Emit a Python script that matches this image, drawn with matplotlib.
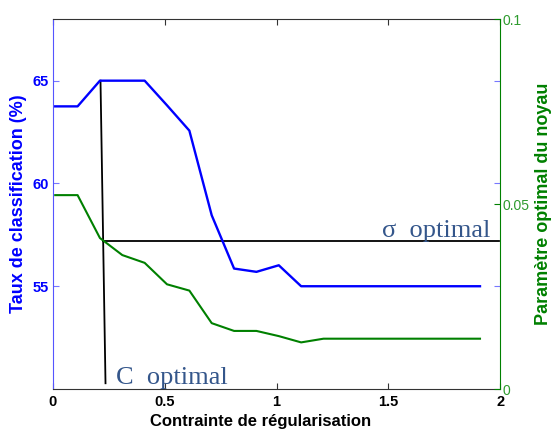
import matplotlib.pyplot as plt

# regularisation constraint (x), classification rate (%) and optimal kernel parameter
c_values = [0.01, 0.11, 0.21, 0.31, 0.41, 0.51, 0.61, 0.71, 0.81, 0.91,
            1.01, 1.11, 1.21, 1.31, 1.41, 1.51, 1.61, 1.71, 1.81, 1.91]
taux = [63.75, 63.75, 65.0, 65.0, 65.0, 63.8, 62.57, 58.45, 55.86, 55.7,
        56.02, 55.0, 55.0, 55.0, 55.0, 55.0, 55.0, 55.0, 55.0, 55.0]
sigma = [0.0524, 0.0524, 0.0408, 0.0362, 0.0341, 0.0283, 0.0266, 0.0178, 0.0157, 0.0157,
         0.0143, 0.0126, 0.0136, 0.0136, 0.0136, 0.0136, 0.0136, 0.0136, 0.0136, 0.0136]

# guide lines marking the optimum (left axis units)
c_opt_x = [0.2125, 0.2349]
c_opt_y = [65.0, 50.28]
sigma_opt_x = [0.2255, 1.995]
sigma_opt_y = [57.18, 57.18]

x_ticks = [0, 0.5, 1, 1.5, 2]
x_ticklabels = ['0', '0.5', '1', '1.5', '2']
left_ticks = [55, 60, 65]
right_ticks = [0, 0.05, 0.1]
right_ticklabels = ['0', '0.05', '0.1']

blue = '#0000FF'
green = '#008000'
note_col = '#34568B'

plt.rcParams['font.family'] = ['Liberation Sans', 'DejaVu Sans']

fig = plt.figure(figsize=(5.52, 4.29), dpi=100)
ax = fig.add_axes([0.096, 0.0932, 0.81, 0.8625])
ax2 = ax.twinx()

ax.plot(c_values, taux, color=blue, lw=1.7, zorder=3)
ax.plot(c_opt_x, c_opt_y, color='black', lw=1.3, zorder=2)
ax.plot(sigma_opt_x, sigma_opt_y, color='black', lw=1.3, zorder=2)
ax2.plot(c_values, sigma, color=green, lw=1.5)

ax.set_xlim(0, 2)
ax.set_ylim(50, 68)
ax2.set_ylim(0, 0.1)

ax.set_xticks(x_ticks)
ax.set_xticklabels(x_ticklabels, fontweight='bold', fontsize=10.5)
ax.set_yticks(left_ticks)
ax.set_yticklabels([str(t) for t in left_ticks], fontweight='bold', fontsize=10.5, color=blue)
ax2.set_yticks(right_ticks)
ax2.set_yticklabels(right_ticklabels, fontsize=10, color='#2E9B2E')

ax.tick_params(axis='x', direction='in', top=True, length=4, width=0.8, color='#333333', pad=4)
ax.tick_params(axis='y', direction='in', left=True, right=True, length=4, width=0.8,
               color='#7777FF', pad=3)
ax2.tick_params(axis='y', direction='in', length=4, width=0.8, color=green, pad=2)

for side in ['top', 'bottom']:
    ax.spines[side].set_color('#333333')
    ax.spines[side].set_linewidth(0.8)
ax.spines['left'].set_color('#5555FF')
ax.spines['left'].set_linewidth(0.8)
ax.spines['right'].set_visible(False)
for side in ['left', 'top', 'bottom']:
    ax2.spines[side].set_visible(False)
ax2.spines['right'].set_color(green)
ax2.spines['right'].set_linewidth(0.8)

ax.set_xlabel('Contrainte de régularisation', fontsize=12, fontweight='bold')
ax.xaxis.set_label_coords(0.465, -0.068)
ax.set_ylabel('Taux de classification (%)', fontsize=13, fontweight='bold', color=blue)
ax.yaxis.set_label_coords(-0.058, 0.5)
ax2.set_ylabel('Paramètre optimal du noyau', fontsize=13, fontweight='bold', color=green)
ax2.yaxis.set_label_coords(1.077, 0.5)

ax.text(1.471, 57.39, 'σ  optimal', fontsize=19, family='Liberation Serif',
        color=note_col, ha='left', va='baseline')
ax.text(0.28, 50.24, 'C  optimal', fontsize=19, family='Liberation Serif',
        color=note_col, ha='left', va='baseline')

fig.savefig('out.png', dpi=100)
